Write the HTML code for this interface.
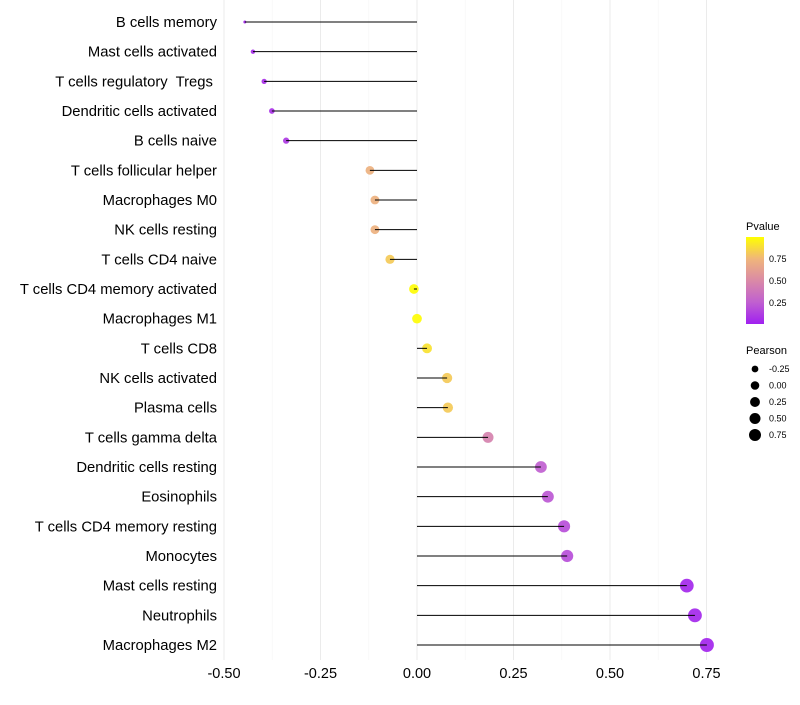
<!DOCTYPE html>
<html><head><meta charset="utf-8"><style>
body{margin:0;background:#fff;font-family:"Liberation Sans",sans-serif}
</style></head><body>
<svg id="chart" width="800" height="700">
<defs><linearGradient id="pg" x1="0" y1="1" x2="0" y2="0">
<stop offset="0" stop-color="#A020F0"/><stop offset="0.25" stop-color="#C060D0"/><stop offset="0.5" stop-color="#DA8AA6"/><stop offset="0.75" stop-color="#F0B67A"/><stop offset="1" stop-color="#FFFF00"/></linearGradient></defs>
<g id="grid"></g><g id="dots"></g><g id="marks"></g><g id="labels"></g>
<g>
<text x="746" y="230" font-size="11" fill="#000">Pvalue</text>
<rect x="746" y="237" width="18" height="87" fill="url(#pg)"/>
<text x="769" y="262" font-size="9">0.75</text><text x="769" y="284" font-size="9">0.50</text><text x="769" y="306" font-size="9">0.25</text>
</g>
<g id="sizeleg">
<text x="746" y="354" font-size="11">Pearson</text>
</g>
</svg>
<script>
const categories=["B cells memory","Mast cells activated","T cells regulatory  Tregs ","Dendritic cells activated","B cells naive","T cells follicular helper","Macrophages M0","NK cells resting","T cells CD4 naive","T cells CD4 memory activated","Macrophages M1","T cells CD8","NK cells activated","Plasma cells","T cells gamma delta","Dendritic cells resting","Eosinophils","T cells CD4 memory resting","Monocytes","Mast cells resting","Neutrophils","Macrophages M2"];
const pearson=[-0.446,-0.425,-0.396,-0.376,-0.339,-0.122,-0.109,-0.109,-0.07,-0.008,0.0,0.026,0.078,0.080,0.184,0.321,0.339,0.381,0.389,0.699,0.720,0.751];
const pvalue=[0.02,0.05,0.06,0.07,0.1,0.72,0.72,0.72,0.82,0.99,0.99,0.9,0.82,0.82,0.45,0.25,0.22,0.18,0.18,0.03,0.03,0.02];
const xTicks=[-0.5,-0.25,0,0.25,0.5,0.75];
const xTickLabels=["-0.50","-0.25","0.00","0.25","0.50","0.75"];
const sizeLegend=[-0.25,0,0.25,0.5,0.75];
const NS="http://www.w3.org/2000/svg";
const x=v=>417+v*386;
const y=i=>22+i*29.667;
const r=v=>1.5+5.5*Math.sqrt(Math.max(0,(v+0.446)/1.2));
const stops=[[0,[160,32,240]],[0.25,[192,96,208]],[0.5,[218,138,166]],[0.75,[240,182,122]],[1,[255,255,0]]];
function col(p){for(let k=1;k<stops.length;k++){if(p<=stops[k][0]){const a=stops[k-1],b=stops[k],t=(p-a[0])/(b[0]-a[0]);return "rgb("+a[1].map((c,j)=>Math.round(c+(b[1][j]-c)*t)).join(",")+")";}}return "rgb(255,255,0)";}
function mk(t,at,parent){const e=document.createElementNS(NS,t);for(const k in at)e.setAttribute(k,at[k]);document.getElementById(parent).appendChild(e);return e;}
for(let k=0;k<xTicks.length;k++){
 const g=mk("line",{x1:x(xTicks[k]),x2:x(xTicks[k]),y1:0,y2:660,stroke:"#ebebeb","stroke-width":1},"grid");
 
 
 if(k<xTicks.length-1){const m=mk("line",{x1:x(xTicks[k]+0.125),x2:x(xTicks[k]+0.125),y1:0,y2:660,stroke:"#f5f5f5","stroke-width":0.6},"grid");
 
 }
 const t=mk("text",{x:x(xTicks[k]),y:678,"text-anchor":"middle","font-size":14.5,fill:"#000"},"labels");t.textContent=xTickLabels[k];
 
 
}
categories.forEach((c,i)=>{
 const t=mk("text",{x:217,y:y(i)+5,"text-anchor":"end","font-size":14.8,fill:"#000",style:"white-space:pre"},"labels");t.textContent=c;
 
 
 const d=mk("circle",{cx:x(pearson[i]),cy:y(i),r:r(pearson[i]),fill:col(pvalue[i]),"fill-opacity":0.92},"dots");
 
 
 const l=mk("line",{x1:x(0),x2:x(pearson[i]),y1:y(i),y2:y(i),stroke:"#000","stroke-width":1},"marks");
 
 
});
sizeLegend.forEach((v,k)=>{
 const cy=369+k*16.5;
 const c=mk("circle",{cx:755,cy:cy,r:r(v)*0.8+0.4,fill:"#000"},"sizeleg");
 
 
 const t=mk("text",{x:769,y:cy+3,"font-size":9},"sizeleg");t.textContent=v.toFixed(2);
 
 
});
</script>
</body></html>
